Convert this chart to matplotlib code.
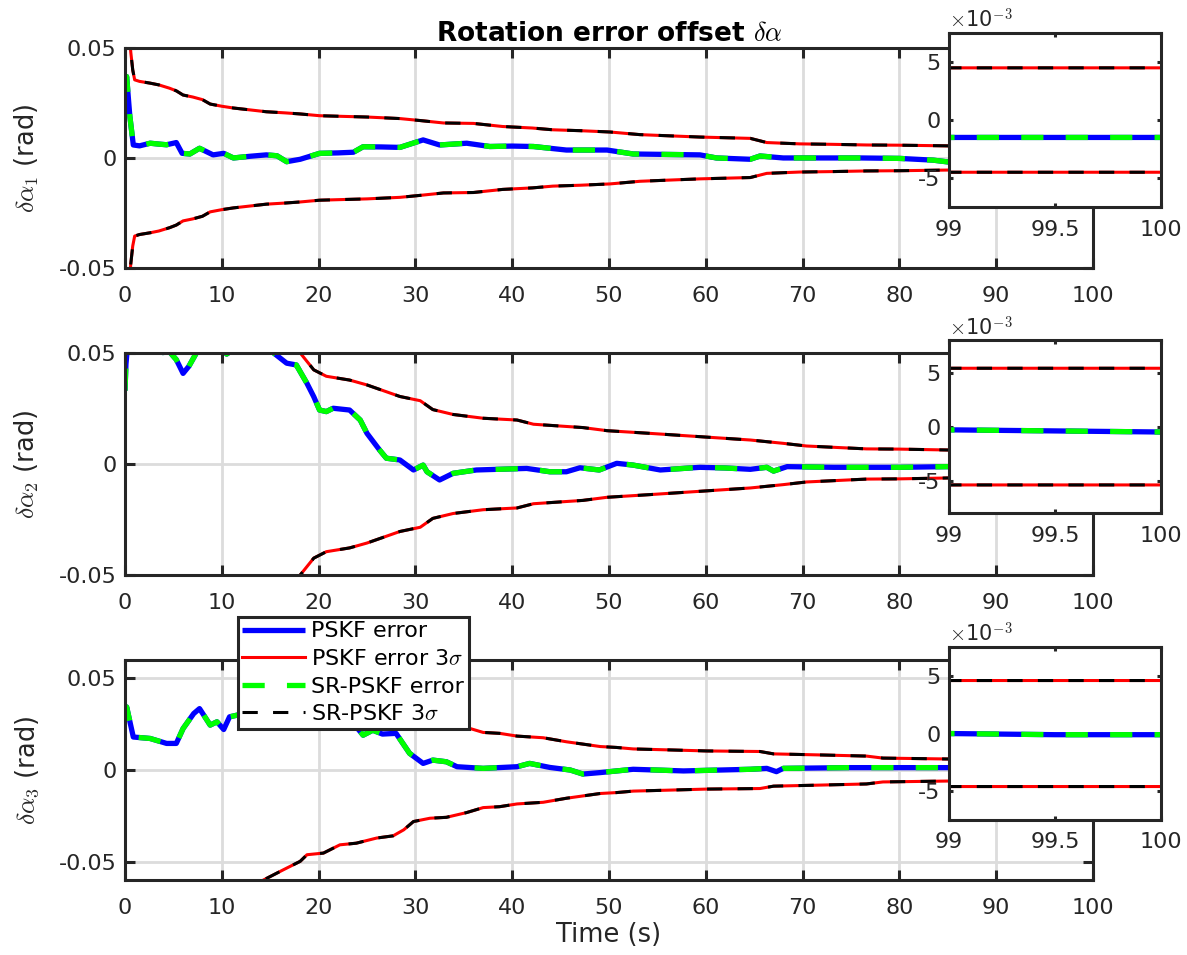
import matplotlib
matplotlib.use('Agg')
import matplotlib.pyplot as plt

plt.rcParams['font.family'] = ['DejaVu Sans']
plt.rcParams['mathtext.fontset'] = 'cm'
plt.rcParams['lines.scale_dashes'] = False

# ---- data (time in s, values in rad) ----
t_sig1 = [0, 0.3, 0.6, 0.8, 1.0, 1.5, 2.6, 3.5, 4.6, 5.3, 6.0, 7.0, 8.0, 8.8, 10, 11.2, 13, 14.6,
          16.5, 18.1, 20.1, 22.5, 25, 28.4, 30.5, 32.9, 36, 39, 42.1, 44.2, 47, 50.1, 53.2, 56, 59.4,
          62, 64.6, 66.3, 69.7, 73, 76.6, 80, 85, 90, 95, 99, 99.5, 100]
sig1 = [0.09, 0.065, 0.048, 0.040, 0.0355, 0.0348, 0.034, 0.0332, 0.0317, 0.0305, 0.0286, 0.0277,
        0.0265, 0.0245, 0.0235, 0.0227, 0.0218, 0.021, 0.0205, 0.020, 0.0192, 0.0189, 0.0186, 0.0179,
        0.017, 0.0159, 0.0157, 0.0143, 0.0136, 0.0128, 0.0124, 0.0118, 0.0106, 0.0101, 0.0095, 0.0092,
        0.0089, 0.0070, 0.0064, 0.0062, 0.0059, 0.0058, 0.0055, 0.0050, 0.0047, 0.0045, 0.0045, 0.0045]
t_err1 = [0, 0.17, 0.5, 0.86, 1.5, 2.6, 3.5, 4.3, 5.3, 5.9, 6.7, 7.7, 9.1, 10.2, 11.2, 13, 14.6, 15.7,
          16.7, 18.1, 20.1, 22, 23.6, 24.6, 26.5, 28.4, 30.8, 32.5, 35.3, 37.7, 40, 42.2, 45.6, 49.8,
          52.5, 56, 59.4, 61.1, 64.6, 65.6, 68, 72, 76, 80, 83.5, 85, 90, 95, 99, 99.5, 100]
err1 = [0.034, 0.037, 0.019, 0.0059, 0.0055, 0.0067, 0.0063, 0.006, 0.007, 0.0021, 0.0018, 0.0044,
        0.0014, 0.0021, 0.0, 0.0008, 0.0014, 0.001, -0.0017, -0.0006, 0.0021, 0.0023, 0.0026, 0.0051,
        0.005, 0.0048, 0.0082, 0.0059, 0.0067, 0.0052, 0.0054, 0.0052, 0.0036, 0.0036, 0.0018, 0.0016,
        0.0014, 0.0, -0.0006, 0.0009, 0.0, 0.0, 0.0, -0.0002, -0.001, -0.0018, -0.0017, -0.0016,
        -0.0015, -0.0015, -0.0015]

t_sig2 = [0, 3, 6, 10, 14, 18.1, 19.5, 20.8, 23.2, 25, 28.4, 30.5, 31.8, 33.9, 37, 40.5, 42.2, 47.3,
          49.8, 54.2, 59.4, 64.6, 68, 70.4, 76.6, 80, 85, 90, 95, 99, 99.5, 100]
sig2 = [0.25, 0.15, 0.1, 0.075, 0.06, 0.05, 0.0424, 0.0395, 0.0378, 0.0356, 0.0304, 0.0285, 0.0245,
        0.0223, 0.0206, 0.0198, 0.0179, 0.0164, 0.015, 0.0138, 0.0123, 0.0108, 0.0093, 0.0081, 0.0068,
        0.0067, 0.0063, 0.006, 0.0056, 0.0054, 0.0054, 0.0054]
t_err2 = [0, 0.1, 0.3, 1, 2, 3, 3.9, 4.6, 5.3, 6.0, 6.6, 7.4, 8.2, 9, 10, 10.5, 11, 12, 14, 15.3,
          16.7, 17.7, 18.8, 19.5, 20.1, 20.8, 21.5, 23.2, 24.3, 25, 26.3, 27, 28.4, 29.8, 30.8, 31.2,
          32.5, 33.9, 36.3, 38.5, 41.5, 43.9, 45.6, 47, 49, 50.8, 52.5, 55.3, 59.4, 62, 64.6, 66.3,
          67, 68.4, 73.2, 80, 85, 90, 95, 99, 99.5, 100]
err2 = [0.033, 0.045, 0.055, 0.058, 0.056, 0.053, 0.0502, 0.0505, 0.047, 0.0408, 0.044, 0.0502,
        0.053, 0.054, 0.052, 0.0495, 0.051, 0.055, 0.056, 0.0502, 0.0454, 0.0446, 0.0363, 0.0303,
        0.0243, 0.0236, 0.0251, 0.0243, 0.0198, 0.0138, 0.0063, 0.0026, 0.0018, -0.0027, -0.0005,
        -0.0035, -0.0072, -0.0042, -0.0027, -0.0024, -0.002, -0.0035, -0.0035, -0.0017, -0.0027,
        0.0003, -0.0005, -0.0027, -0.0015, -0.0018, -0.0024, -0.0015, -0.0032, -0.0012, -0.0015,
        -0.0015, -0.0012, -0.0008, -0.0005, -0.0003, -0.0004, -0.0005]

t_sig3 = [0, 5, 10, 14.3, 16.4, 18.1, 18.8, 20.5, 22.2, 23.9, 26, 27.7, 28.8, 29.8, 31.5, 33.2, 35.3,
          37, 38.7, 40.5, 43.2, 45.6, 49.1, 50.8, 52.5, 56, 60.1, 65.6, 67, 72, 76.6, 78.3, 85.2, 90,
          95, 99, 99.5, 100]
sig3 = [0.15, 0.1, 0.075, 0.06, 0.0543, 0.0498, 0.0462, 0.0453, 0.0408, 0.0399, 0.0371, 0.0359,
        0.0326, 0.0281, 0.0263, 0.0258, 0.0232, 0.0205, 0.02, 0.0185, 0.0176, 0.0154, 0.0128, 0.0123,
        0.0115, 0.011, 0.0104, 0.0101, 0.0088, 0.0082, 0.0076, 0.0065, 0.006, 0.0053, 0.0049, 0.0046,
        0.0046, 0.0046]
t_err3 = [0, 0.17, 0.86, 2.6, 4.3, 5.3, 6.0, 7.1, 7.7, 8.8, 9.5, 10.2, 10.8, 12.5, 15, 18, 21, 23.9,
          24.6, 25.6, 26.6, 28, 29.4, 30.8, 31.8, 33.2, 34.3, 37, 40.5, 41.8, 43.9, 46, 47.3, 49.1,
          52.5, 57.7, 64.6, 66.3, 67.3, 68, 74.9, 80, 85.2, 90, 95, 99, 99.5, 100]
err3 = [0.030, 0.0344, 0.018, 0.0172, 0.0145, 0.0145, 0.0226, 0.0308, 0.0335, 0.0245, 0.0263, 0.0221,
        0.029, 0.031, 0.03, 0.028, 0.026, 0.0235, 0.019, 0.0217, 0.0196, 0.020, 0.0091, 0.0036,
        0.0054, 0.0045, 0.0018, 0.0009, 0.0018, 0.0036, 0.0014, 0.0, -0.0022, -0.0014, 0.0004,
        -0.0005, 0.0004, 0.0009, -0.0009, 0.0009, 0.0013, 0.0013, 0.0013, 0.0008, 0.0003, 0.0,
        -0.0001, -0.0001]

panels = [(t_sig1, sig1, t_err1, err1), (t_sig2, sig2, t_err2, err2), (t_sig3, sig3, t_err3, err3)]

ylabels = [r'$\delta\alpha_1$ (rad)', r'$\delta\alpha_2$ (rad)', r'$\delta\alpha_3$ (rad)']
ylims = [(-0.05, 0.05), (-0.05, 0.05), (-0.06, 0.06)]
inset_ylims = [(-0.0075, 0.0075), (-0.008, 0.008), (-0.0075, 0.0075)]
xticks = [0, 10, 20, 30, 40, 50, 60, 70, 80, 90, 100]
xticklabels = ['0', '10', '20', '30', '40', '50', '60', '70', '80', '90', '100']
yticks = [-0.05, 0, 0.05]
yticklabels = ['-0.05', '0', '0.05']
inset_xticks = [99, 99.5, 100]
inset_xticklabels = ['99', '99.5', '100']
inset_yticks = [-0.005, 0, 0.005]
inset_yticklabels = ['-5', '0', '5']
legend_labels = ['PSKF error', r'PSKF error 3$\sigma$', 'SR-PSKF error', r'SR-PSKF 3$\sigma$']

# ---- layout (figure fractions) ----
main_pos = [(0.1053, 0.7194, 0.8155, 0.2304),
            (0.1053, 0.3979, 0.8155, 0.2325),
            (0.1053, 0.0785, 0.8155, 0.2304)]
inset_pos = [(0.7995, 0.7832, 0.1786, 0.1822),
             (0.7995, 0.4628, 0.1786, 0.1810),
             (0.7995, 0.1414, 0.1786, 0.1810)]

axis_col = '#262626'
fs = 16
fs_lab = 18.5


def draw_lines(ax, t_s, s, t_e, e):
    neg = [-v for v in s]
    h1, = ax.plot(t_e, e, color='blue', lw=3.8, solid_capstyle='butt')
    h2, = ax.plot(t_s, s, color='red', lw=2.2)
    ax.plot(t_s, neg, color='red', lw=2.2)
    h3, = ax.plot(t_e, e, color='#00ff00', lw=3.8, dashes=(16, 16))
    h4, = ax.plot(t_s, s, color='black', lw=2.2, dashes=(11, 11))
    ax.plot(t_s, neg, color='black', lw=2.2, dashes=(11, 11))
    return [h1, h2, h3, h4]


def style_axes(ax):
    for sp in ax.spines.values():
        sp.set_color(axis_col)
        sp.set_linewidth(2.2)
    ax.tick_params(direction='in', top=True, right=True, colors=axis_col,
                   labelcolor=axis_col, width=2.2, labelsize=fs)


fig = plt.figure(figsize=(11.87, 9.55), dpi=100)

handles = None
for i, (t_s, s, t_e, e) in enumerate(panels):
    ax = fig.add_axes(main_pos[i])
    handles = draw_lines(ax, t_s, s, t_e, e)
    ax.set_xlim(0, 100)
    ax.set_ylim(*ylims[i])
    ax.set_xticks(xticks)
    ax.set_xticklabels(xticklabels)
    ax.set_yticks(yticks)
    ax.set_yticklabels(yticklabels)
    ax.grid(True, color='#dcdcdc', lw=2)
    ax.set_axisbelow(True)
    style_axes(ax)
    ax.tick_params(length=7)
    ax.tick_params(axis='x', pad=13)
    ax.tick_params(axis='y', pad=6)
    ax.set_ylabel(ylabels[i], fontsize=fs_lab, color=axis_col, labelpad=13)
    if i == 0:
        ax.set_title(r'Rotation error offset $\delta\alpha$', fontsize=19,
                     fontweight='bold', pad=5)
    if i == 2:
        ax.set_xlabel('Time (s)', fontsize=fs_lab, color=axis_col, labelpad=3)

    ax_in = fig.add_axes(inset_pos[i])
    draw_lines(ax_in, t_s, s, t_e, e)
    ax_in.set_xlim(99, 100)
    ax_in.set_ylim(*inset_ylims[i])
    ax_in.set_xticks(inset_xticks)
    ax_in.set_xticklabels(inset_xticklabels)
    ax_in.set_yticks(inset_yticks)
    ax_in.set_yticklabels(inset_yticklabels)
    style_axes(ax_in)
    ax_in.tick_params(length=3)
    ax_in.tick_params(axis='x', pad=9)
    ax_in.tick_params(axis='y', pad=6)
    ax_in.text(0.0, 1.005, r'$\times$10$^{-3}$', transform=ax_in.transAxes, ha='left',
               va='bottom', fontsize=15, color=axis_col)

leg = fig.legend(handles, legend_labels, loc='upper left',
                 bbox_to_anchor=(238 / 1187, 1 - 617 / 955), fontsize=fs,
                 fancybox=False, framealpha=1, edgecolor=axis_col, handlelength=2.8,
                 borderpad=0.2, labelspacing=0.34, handletextpad=0.3, borderaxespad=0)
leg.get_frame().set_linewidth(2.2)

plt.savefig('out.png', dpi=100)
